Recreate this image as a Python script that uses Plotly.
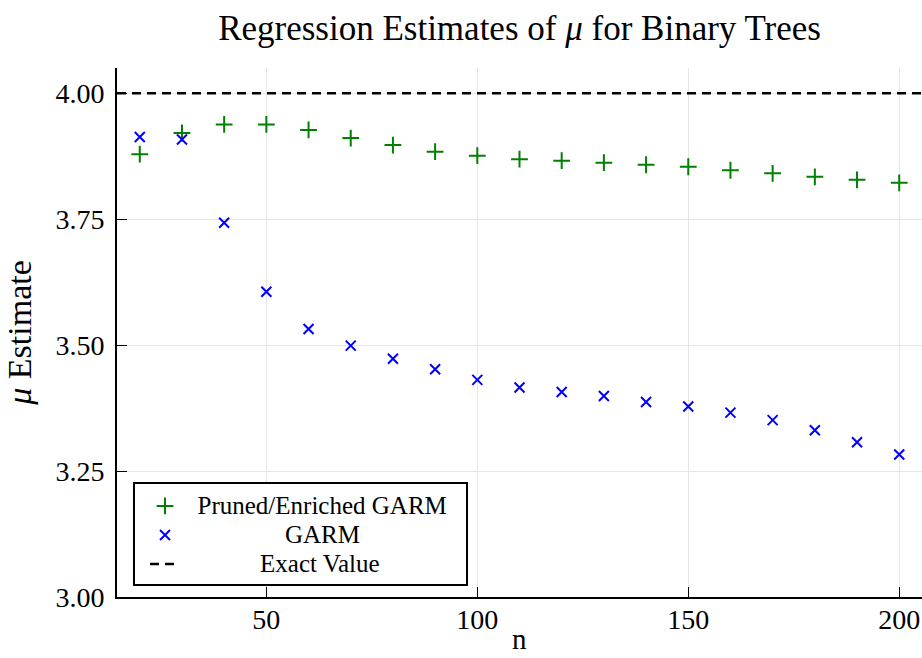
import plotly.graph_objects as go

# ---- data ----
n_values = [20, 30, 40, 50, 60, 70, 80, 90, 100, 110, 120, 130, 140, 150, 160, 170, 180, 190, 200]
pruned_enriched = [3.879, 3.921, 3.938, 3.938, 3.927, 3.911, 3.897, 3.884, 3.876, 3.869,
                   3.866, 3.862, 3.858, 3.854, 3.847, 3.841, 3.834, 3.828, 3.822]
garm = [3.913, 3.908, 3.743, 3.606, 3.532, 3.499, 3.473, 3.452, 3.431, 3.416,
        3.407, 3.399, 3.387, 3.378, 3.366, 3.351, 3.331, 3.307, 3.283]
exact_value = 4.0
x_ticks = [50, 100, 150, 200]
y_ticks = [3.00, 3.25, 3.50, 3.75, 4.00]
y_tick_text = ["3.00", "3.25", "3.50", "3.75", "4.00"]
series_names = ["Pruned/Enriched GARM", "GARM", "Exact Value"]
name_pad = [2, 16, 12]  # non-breaking spaces used to centre legend labels

span = n_values[-1] - n_values[0]
x_range = [n_values[0] - 0.03 * span, n_values[-1] + 0.03 * span]
y_range = [3.0, 4.05]

FONT = "Liberation Serif"
NB = "\u00a0"


def legend_label(i):
    return '<span style="font-size:25px">' + NB * name_pad[i] + series_names[i] + "</span>"


fig = go.Figure()
fig.add_trace(go.Scatter(
    x=n_values, y=pruned_enriched, mode="markers",
    name=legend_label(0),
    marker=dict(symbol="cross-thin-open", size=12, color="#008000",
                line=dict(color="#008000", width=2)),
))
fig.add_trace(go.Scatter(
    x=n_values, y=garm, mode="markers",
    name=legend_label(1),
    marker=dict(symbol="x-thin-open", size=10, color="#0000ff",
                line=dict(color="#0000ff", width=2)),
))
fig.add_trace(go.Scatter(
    x=x_range, y=[exact_value, exact_value], mode="lines",
    name=legend_label(2),
    line=dict(color="black", width=2.5, dash="9px,6px"),
))

# legend frame
fig.add_shape(type="rect", xref="paper", yref="paper",
              x0=0.0211, x1=0.4348, y0=0.0227, y1=0.2155,
              line=dict(color="black", width=2), fillcolor="white", layer="above")

# x-axis title
fig.add_annotation(text="n", xref="paper", yref="paper", x=0.5, y=-0.079,
                   xanchor="center", yanchor="middle", showarrow=False,
                   font=dict(size=29, family=FONT, color="black"))

fig.update_layout(
    width=922, height=658,
    margin=dict(l=117, r=0, t=68, b=61),
    paper_bgcolor="white", plot_bgcolor="white",
    font=dict(family=FONT, color="black"),
    title=dict(text="Regression Estimates of <i>μ</i> for Binary Trees",
               x=0.5635, xanchor="center", y=1 - 28 / 658, yanchor="middle",
               font=dict(size=35, family=FONT, color="black")),
    legend=dict(x=0.0348, y=0.2090, xanchor="left", yanchor="top",
                borderwidth=0, bgcolor="rgba(0,0,0,0)",
                font=dict(size=20, family=FONT, color="black"),
                tracegroupgap=0),
    showlegend=True,
)

fig.update_xaxes(
    range=x_range, tickvals=x_ticks, ticks="inside", ticklen=10, tickwidth=1,
    tickcolor="black", showline=True, linecolor="black", linewidth=2,
    showgrid=True, gridcolor="#e6e6e6", gridwidth=1, zeroline=False,
    tickfont=dict(size=28, family=FONT, color="black"),
    ticklabelstandoff=-4,
    automargin=False, mirror=False,
)
fig.update_yaxes(
    range=y_range, tickvals=y_ticks, ticktext=y_tick_text, ticks="inside", ticklen=10,
    tickwidth=1, tickcolor="black", showline=True, linecolor="black", linewidth=2,
    showgrid=True, gridcolor="#e6e6e6", gridwidth=1, zeroline=False,
    tickfont=dict(size=28, family=FONT, color="black"),
    ticklabelstandoff=5,
    title=dict(text="<i>μ</i> Estimate", font=dict(size=34, family=FONT, color="black"), standoff=14),
    automargin=False, mirror=False,
)

fig.write_html("out.html")
